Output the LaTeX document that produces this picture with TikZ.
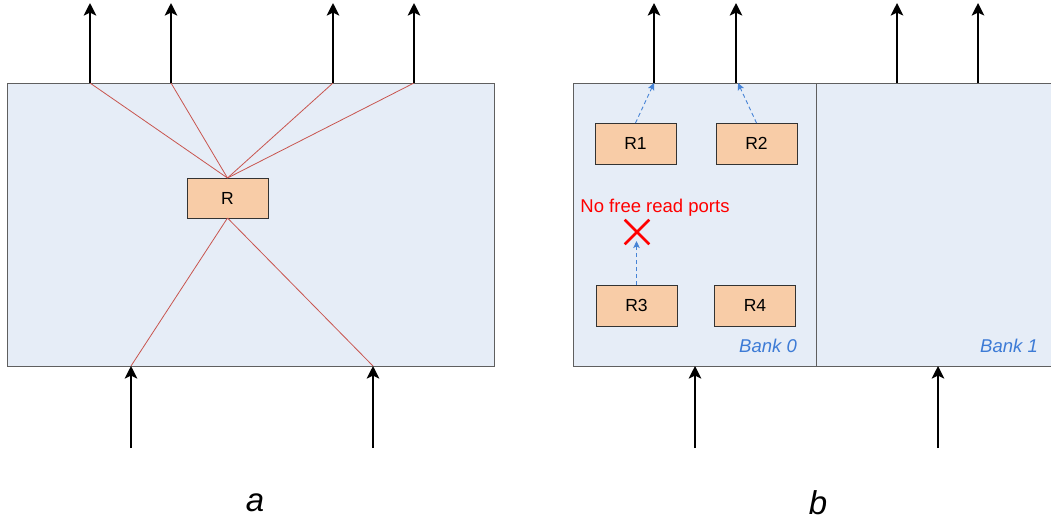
\documentclass[tikz,border=0pt]{standalone}
\usepackage{fontspec}
\setmainfont{Liberation Sans}
\usetikzlibrary{arrows.meta,shapes.misc}
\definecolor{bankfill}{HTML}{E6EDF7}
\definecolor{bankline}{HTML}{5F5F5F}
\definecolor{regfill}{HTML}{F8CCA7}
\definecolor{fanred}{HTML}{C8554F}
\definecolor{reqblue}{HTML}{4683D6}
\definecolor{labblue}{HTML}{3D7BD6}
\definecolor{alertred}{HTML}{FF0000}
\begin{document}
\begin{tikzpicture}[x=1pt,y=-1pt,
  bank/.style={draw=bankline, fill=bankfill, line width=1pt, inner sep=0pt, outer sep=0pt},
  reg/.style={draw=black!80, fill=regfill, line width=0.9pt, minimum width=81pt, minimum height=41pt,
    inner sep=0pt, outer sep=0pt, font=\fontsize{17.5}{20}\selectfont},
  port/.style={draw=black, line width=2.8pt, -{Stealth[length=12.5pt,width=12.5pt,inset=3pt]}},
  fan/.style={draw=fanred, line width=0.8pt},
  req/.style={draw=reqblue, line width=0.9pt, dash pattern=on 4pt off 3pt,
    -{Stealth[length=7pt,width=6.5pt,inset=1.5pt]}},
  banklabel/.style={text=labblue, font=\fontsize{18.5}{22}\selectfont\itshape, inner sep=0pt},
  caption/.style={font=\fontsize{33}{38}\selectfont\itshape, inner sep=0pt}]
\useasboundingbox (0,0) rectangle (1051,520);

% ---------- (a) single multi-ported bank ----------
\node[bank, minimum width=487pt, minimum height=283pt] (A) at (250.5,224.5) {};
\node[reg, minimum width=81pt, minimum height=40pt] (R) at (227.5,198) {R};

\coordinate (ao1) at (90,3);
\coordinate (ao2) at (171,3);
\coordinate (ao3) at (333,3);
\coordinate (ao4) at (414,3);
\coordinate (ai1) at (131,448);
\coordinate (ai2) at (373,448);

\foreach \p in {ao1,ao2,ao3,ao4}{
  \draw[fan] (A.north -| \p) -- (R.north);
  \draw[port] (A.north -| \p) -- (\p);
}
\foreach \p in {ai1,ai2}{
  \draw[fan] (R.south) -- (A.south -| \p);
  \draw[port] (\p) -- (A.south -| \p);
}
\node[caption] (capa) at (255,503) {a};

% ---------- (b) two banks, one read port pair each ----------
\node[bank, minimum width=243pt, minimum height=283pt] (B0) at (694.5,224.5) {};
\node[bank, minimum width=236pt, minimum height=283pt] (B1) at (934,224.5) {};

\node[banklabel, anchor=base east] (l0) at (797,352) {Bank 0};
\node[banklabel, anchor=base east] (l1) at (1038,352) {Bank 1};

\coordinate (bo1) at (654,3);
\coordinate (bo2) at (736,3);
\coordinate (bo3) at (897,3);
\coordinate (bo4) at (978,3);
\coordinate (bi1) at (695,448);
\coordinate (bi2) at (938,448);

\foreach \p in {bo1,bo2,bo3,bo4}{
  \draw[port] (B0.north -| \p) -- (\p);
}
\foreach \p in {bi1,bi2}{
  \draw[port] (\p) -- (B0.south -| \p);
}

\node[reg] (R1) at (635.5,143.5) {R1};
\node[reg] (R2) at (756.5,143.5) {R2};
\node[reg] (R3) at (636.5,305.5) {R3};
\node[reg] (R4) at (755,305.5) {R4};

\draw[req] (R1.north) -- (B0.north -| bo1);
\draw[req] (R2.north) -- ([xshift=2pt]B0.north -| bo2);

\node[text=alertred, font=\fontsize{18.5}{22}\selectfont, anchor=base, inner sep=0pt] (nofree) at (655,212) {No free read ports};
\node[draw=alertred, cross out, line width=2.6pt, minimum size=22pt, inner sep=0pt] (X) at (637,232) {};
\coordinate (blocked) at (636.5,241);
\draw[req] (R3.north) -- (blocked);

\node[caption] (capb) at (818,503) {b};
\end{tikzpicture}
\end{document}
